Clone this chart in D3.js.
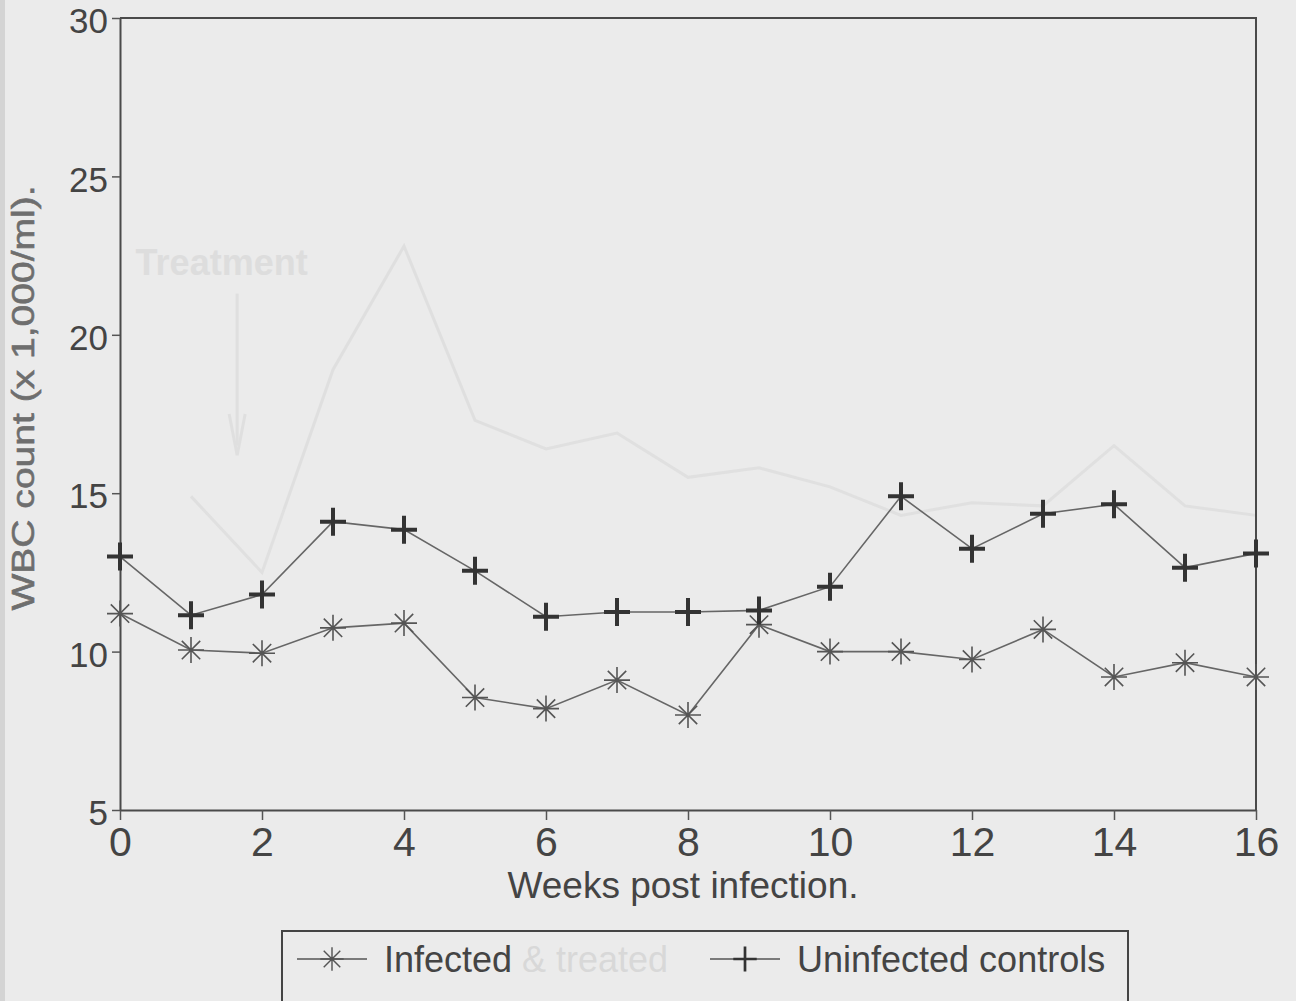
<!DOCTYPE html>
<html>
<head>
<meta charset="utf-8">
<script src="https://cdn.jsdelivr.net/npm/d3@7"></script>
<style>
  body { margin: 0; background: #ebebeb; }
  svg { display: block; }
  text { font-family: "Liberation Sans", Arial, sans-serif; }
</style>
</head>
<body>
<svg id="chart" width="1296" height="1001"></svg>
<script>
// weeks post infection
const weeks = [0, 1, 2, 3, 4, 5, 6, 7, 8, 9, 10, 11, 12, 13, 14, 15, 16];
// WBC count (x 1,000/ml)
const infected = [11.2, 10.05, 9.95, 10.75, 10.9, 8.55, 8.2, 9.1, 8.0, 10.85, 10.0, 10.0, 9.75, 10.7, 9.2, 9.65, 9.2];
const uninfected = [13.0, 11.15, 11.8, 14.1, 13.85, 12.55, 11.1, 11.25, 11.25, 11.3, 12.05, 14.9, 13.25, 14.35, 14.65, 12.65, 13.1];
// faint curve showing through from the other side of the page
const ghostWeeks = [1, 2, 3, 4, 5, 6, 7, 8, 9, 10, 11, 12, 13, 14, 15, 16];
const ghostValues = [14.9, 12.5, 18.9, 22.8, 17.3, 16.4, 16.9, 15.5, 15.8, 15.2, 14.3, 14.7, 14.6, 16.5, 14.6, 14.3];
const xTicks = [0, 2, 4, 6, 8, 10, 12, 14, 16];
const yTicks = [5, 10, 15, 20, 25, 30];

const svg = d3.select("#chart");
const x = d3.scaleLinear().domain([0, 16]).range([120, 1256]);
const y = d3.scaleLinear().domain([5, 30]).range([810, 18]);

// paper edge on the left
svg.append("rect").attr("x", 0).attr("y", 0).attr("width", 5).attr("height", 1001).attr("fill", "#d4d4d4");

// bleed-through
let ghost = svg.append("g").attr("opacity", 0.4);
ghost.append("path")
    .datum(ghostWeeks.map((w, i) => [w, ghostValues[i]]))
    .attr("fill", "none").attr("stroke", "#cfcfcf").attr("stroke-width", 3)
    .attr("d", d3.line().x(d => x(d[0])).y(d => y(d[1])));
ghost.append("text").attr("x", x(0.22)).attr("y", y(21.9))
    .attr("font-size", 36).attr("font-weight", "bold").attr("fill", "#c9c9c9").text("Treatment");
ghost.append("line").attr("x1", x(1.65)).attr("x2", x(1.65)).attr("y1", y(21.3)).attr("y2", y(16.5))
    .attr("stroke", "#cfcfcf").attr("stroke-width", 3);
ghost.append("path").attr("d", `M${x(1.65) - 8},${y(17.5)}L${x(1.65)},${y(16.2)}L${x(1.65) + 8},${y(17.5)}`)
    .attr("fill", "none").attr("stroke", "#cfcfcf").attr("stroke-width", 3);

// frame top and right
svg.append("path")
    .attr("d", `M${x(0)},${y(30)}H${x(16)}V${y(5)}`)
    .attr("fill", "none").attr("stroke", "#4a4a4a").attr("stroke-width", 2);

let xAxis = svg.append("g").attr("transform", `translate(0,${y(5)})`)
    .call(d3.axisBottom(x).tickValues(xTicks).tickSize(10).tickSizeOuter(0).tickPadding(7));
let yAxis = svg.append("g").attr("transform", `translate(${x(0)},0)`)
    .call(d3.axisLeft(y).tickValues(yTicks).tickSize(8).tickSizeOuter(0).tickPadding(4));
for (const ax of [xAxis, yAxis]) {
    ax.select(".domain").attr("stroke", "#4a4a4a").attr("stroke-width", 2);
    ax.selectAll(".tick line").attr("stroke", "#555").attr("stroke-width", 1.5);
    ax.selectAll("text").attr("fill", "#444").attr("font-family", "Liberation Sans, Arial, sans-serif");
}
xAxis.selectAll("text").attr("font-size", 41);
yAxis.selectAll("text").attr("font-size", 35).attr("dy", "0.42em");

svg.append("text").attr("x", 683).attr("y", 898).attr("text-anchor", "middle")
    .attr("font-size", 37).attr("fill", "#444").text("Weeks post infection.");

svg.append("text")
    .attr("transform", "translate(34,398) rotate(-90)")
    .attr("text-anchor", "middle").attr("font-size", 32)
    .attr("fill", "#6e6e6e").attr("stroke", "#6e6e6e").attr("stroke-width", 0.6)
    .attr("textLength", 425).attr("lengthAdjust", "spacingAndGlyphs")
    .text("WBC count (x 1,000/ml).");

// marker shapes
const r = 13, d = r * 0.707;
const starPath = `M${-r},0H${r}M0,${-r}V${r}M${-d},${-d}L${d},${d}M${-d},${d}L${d},${-d}`;
const plusPath = `M-13,0H13M0,-14V14`;

const line = d3.line().x((v, i) => x(weeks[i])).y(v => y(v));

svg.append("path").datum(infected).attr("fill", "none")
    .attr("stroke", "#666").attr("stroke-width", 1.6).attr("d", line);
svg.append("path").datum(uninfected).attr("fill", "none")
    .attr("stroke", "#666").attr("stroke-width", 1.6).attr("d", line);

svg.append("g").selectAll("path").data(infected).join("path")
    .attr("transform", (v, i) => `translate(${x(weeks[i])},${y(v)})`)
    .attr("d", starPath).attr("fill", "none").attr("stroke", "#555").attr("stroke-width", 1.6);
svg.append("g").selectAll("path").data(uninfected).join("path")
    .attr("transform", (v, i) => `translate(${x(weeks[i])},${y(v)})`)
    .attr("d", plusPath).attr("fill", "none").attr("stroke", "#333").attr("stroke-width", 4);

// legend
let legend = svg.append("g");
legend.append("rect").attr("x", 282).attr("y", 931).attr("width", 846).attr("height", 90)
    .attr("fill", "none").attr("stroke", "#444").attr("stroke-width", 2);
legend.append("line").attr("x1", 297).attr("x2", 367).attr("y1", 959).attr("y2", 959)
    .attr("stroke", "#555").attr("stroke-width", 1.6);
legend.append("path").attr("transform", "translate(332,959) scale(0.9)").attr("d", starPath)
    .attr("fill", "none").attr("stroke", "#555").attr("stroke-width", 1.6);
legend.append("text").attr("x", 384).attr("y", 972).attr("font-size", 36).attr("fill", "#444").text("Infected");
legend.append("text").attr("x", 522).attr("y", 972).attr("font-size", 36).attr("fill", "#d8d8d8").text("& treated");
legend.append("line").attr("x1", 710).attr("x2", 780).attr("y1", 959).attr("y2", 959)
    .attr("stroke", "#555").attr("stroke-width", 1.6);
legend.append("path").attr("transform", "translate(745,959) scale(0.9)").attr("d", plusPath)
    .attr("fill", "none").attr("stroke", "#333").attr("stroke-width", 3);
legend.append("text").attr("x", 797).attr("y", 972).attr("font-size", 36).attr("fill", "#444").text("Uninfected controls");
</script>
</body>
</html>
